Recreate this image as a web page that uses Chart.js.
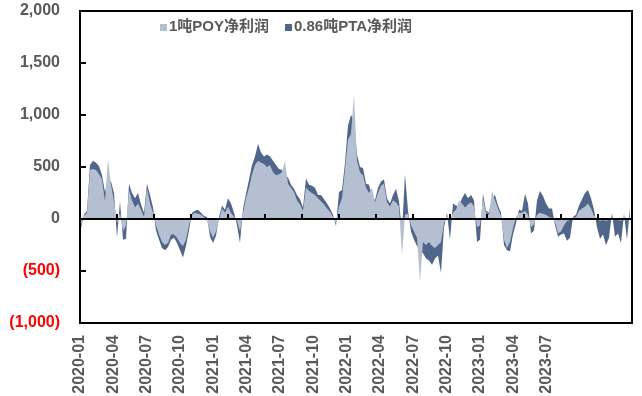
<!DOCTYPE html>
<html>
<head>
<meta charset="utf-8">
<script src="https://cdn.jsdelivr.net/npm/chart.js@4.4.0/dist/chart.umd.min.js"></script>
<style>
  html, body { margin: 0; padding: 0; background: #fff; }
  #wrap { width: 642px; height: 396px; }
</style>
</head>
<body>
<div id="wrap"><canvas id="profitChart" width="642" height="396"></canvas></div>
<script>
// 系列名
const seriesNames = ['1吨POY净利润', '0.86吨PTA净利润'];

// 1吨POY净利润 (元/吨), 约每周一个点, 2020-01 起
const poyProfit = [
  -60, 30, 60, 470, 480, 470, 430, 380, 170, 575,
  330, 170, -40, 60, -120, -60, 280, 180, 110, 150,
  90, 20, 300, 150, 60, -60, -150, -220, -250, -230,
  -150, -150, -180, -230, -260, -200, -60, 40, 60, 50,
  40, 20, -10, -120, -180, -120, -10, 100, 60, 120,
  60, 20, -20, -120, 60, 200, 300, 430, 520, 560,
  540, 530, 500, 520, 450, 420, 430, 450, 560, 340,
  300, 260, 180, 140, 80, 300, 270, 250, 230, 200,
  170, 140, 100, 70, 20, -40, 120, 200, 480, 760,
  820, 1200, 560, 450, 420, 300, 250, 300, 160, 250,
  320, 340, 160, 120, 180, 160, 120, -350, 40, 50,
  -60, -120, -180, -600, -220, -250, -220, -260, -280, -250,
  -220, -40, 40, -20, 60, 90, 180, 150, 110, 140,
  160, 120, -80, -60, 200, 60, 40, 270, 180, 100,
  30, -200, -280, -220, -90, 20, 60, 60, 80, 40,
  -80, -50, 40, 60, 50, 40, 20, 10, -30, -140,
  -120, -60, -20, -10, 10, 20, 80, 100, 120, 150,
  100, 30, 10, -20, -10, -20, -10, 10, -10, -10,
  -20, 10, -20, 20
];

// 0.86吨PTA净利润 (元)
const ptaProfit = [
  -90, 40, 80, 520, 560, 540, 510, 420, 260, 380,
  360, 250, -180, 170, -200, -190, 340, 250, 200, 250,
  140, 60, 340, 230, 110, -110, -200, -280, -300, -270,
  -200, -180, -230, -300, -370, -260, -110, 60, 80, 90,
  60, 30, 20, -170, -230, -160, 20, 130, 90, 200,
  150, 60, -60, -230, 100, 240, 380, 520, 600, 720,
  640, 600, 620, 600, 560, 520, 480, 470, 420, 400,
  330, 290, 230, 190, 110, 390, 330, 320, 300, 230,
  230, 190, 150, 100, 40, -70, 260, 280, 540, 900,
  1000, 950, 620, 500, 490, 340, 330, 220, 180, 300,
  360, 380, 200, 150, 230, 290, 170, -120, 430, 80,
  -120, -200, -260, -300, -330, -380, -400, -440, -380, -350,
  -520, -80, 60, -200, 150, 130, 120, 200, 250, 200,
  230, 180, -220, -200, 240, 80, 60, 200, 230, 130,
  60, -250, -300, -310, -150, -40, 90, 80, 240, 150,
  -140, -110, 180, 270, 220, 150, 100, 100, -60, -170,
  -150, -140, -210, -180, 20, 40, 130, 190, 250, 280,
  200, 90, -80, -190, -150, -250, -180, 60, -170, -140,
  -230, 50, -200, 110
];

// 横轴标签
const xTickLabels = [
  '2020-01', '2020-04', '2020-07', '2020-10',
  '2021-01', '2021-04', '2021-07', '2021-10',
  '2022-01', '2022-04', '2022-07', '2022-10',
  '2023-01', '2023-04', '2023-07'
];

const X_MIN = -1 / 3;
const X_MAX = poyProfit.length - 1 + 2 / 3;
const LABEL_STEP = 100 / 9;   // 每个季度标签间隔 (点数)
const TICK_MARK_STEP = 37 / 3; // 零轴上刻度线间隔

const LIGHT = '#B4C0D1';
const DARK = '#50658A';
const TEXT = '#595959';

function toPoints(arr) {
  return arr.map((v, i) => ({ x: i, y: v }));
}

function fmtNum(v) {
  const s = Math.abs(v).toLocaleString('en-US');
  return v < 0 ? '(' + s + ')' : s;
}

// 边框, 零轴, 内刻度, 图例
const decorPlugin = {
  id: 'decor',
  afterDatasetsDraw(chart) {
    const ctx = chart.ctx;
    const { left, right, top, bottom } = chart.chartArea;
    const xs = chart.scales.x;
    const ys = chart.scales.y;
    ctx.save();
    ctx.strokeStyle = '#000';
    ctx.lineWidth = 2;

    const y0 = Math.round(ys.getPixelForValue(0));
    ctx.beginPath();
    ctx.moveTo(left, y0);
    ctx.lineTo(right, y0);
    ctx.stroke();

    // 零轴刻度线 (朝上)
    ctx.beginPath();
    for (let v = X_MIN + TICK_MARK_STEP; v < X_MAX; v += TICK_MARK_STEP) {
      const px = Math.round(xs.getPixelForValue(v));
      ctx.moveTo(px, y0);
      ctx.lineTo(px, y0 - 5);
    }
    ctx.stroke();

    // 纵轴内刻度
    ctx.beginPath();
    [-500, 500, 1000, 1500].forEach(v => {
      const py = Math.round(ys.getPixelForValue(v));
      ctx.moveTo(left, py);
      ctx.lineTo(left + 6, py);
    });
    ctx.stroke();

    ctx.strokeRect(left, top, right - left, bottom - top);

    // 图例
    ctx.font = 'bold 15px "Liberation Sans", "Noto Sans CJK SC", sans-serif';
    ctx.textBaseline = 'middle';
    ctx.textAlign = 'left';
    let lx = left + 80;
    const ly = top + 16;
    chart.data.datasets.forEach(ds => {
      ctx.fillStyle = ds.backgroundColor;
      ctx.fillRect(lx, ly - 3, 7, 7);
      ctx.fillStyle = TEXT;
      ctx.fillText(ds.label, lx + 9, ly);
      lx += 9 + ctx.measureText(ds.label).width + 16;
    });
    ctx.restore();
  }
};

new Chart(document.getElementById('profitChart'), {
  type: 'line',
  data: {
    datasets: [
      {
        label: seriesNames[0],
        data: toPoints(poyProfit),
        backgroundColor: LIGHT,
        borderWidth: 0,
        pointRadius: 0,
        fill: 'origin',
        tension: 0
      },
      {
        label: seriesNames[1],
        data: toPoints(ptaProfit),
        backgroundColor: DARK,
        borderWidth: 0,
        pointRadius: 0,
        fill: 'origin',
        tension: 0
      }
    ]
  },
  options: {
    responsive: false,
    animation: false,
    layout: { padding: { left: 10, right: 10, top: 11, bottom: 0 } },
    plugins: {
      legend: { display: false },
      tooltip: { enabled: false }
    },
    scales: {
      x: {
        type: 'linear',
        min: X_MIN,
        max: X_MAX,
        grid: { display: false, drawTicks: false },
        border: { display: false },
        afterFit: s => { s.height = 73; s.paddingLeft = 0; s.paddingRight = 0; },
        afterBuildTicks: s => {
          s.ticks = xTickLabels.map((_, k) => ({ value: X_MIN + k * LABEL_STEP }));
        },
        ticks: {
          autoSkip: false,
          maxRotation: 90,
          minRotation: 90,
          padding: 12,
          color: TEXT,
          font: { family: '"Liberation Sans", Arial, sans-serif', size: 16, weight: 'bold' },
          callback: (v, i) => xTickLabels[i]
        }
      },
      y: {
        min: -1000,
        max: 2000,
        grid: { display: false, drawTicks: false },
        border: { display: false },
        afterFit: s => { s.width = 70; s.paddingTop = 0; s.paddingBottom = 0; },
        ticks: {
          stepSize: 500,
          padding: 20,
          color: c => (c.tick && c.tick.value < 0 ? '#FF0000' : TEXT),
          font: { family: '"Liberation Sans", Arial, sans-serif', size: 16, weight: 'bold' },
          callback: v => fmtNum(v)
        }
      }
    }
  },
  plugins: [decorPlugin]
});
</script>
</body>
</html>
